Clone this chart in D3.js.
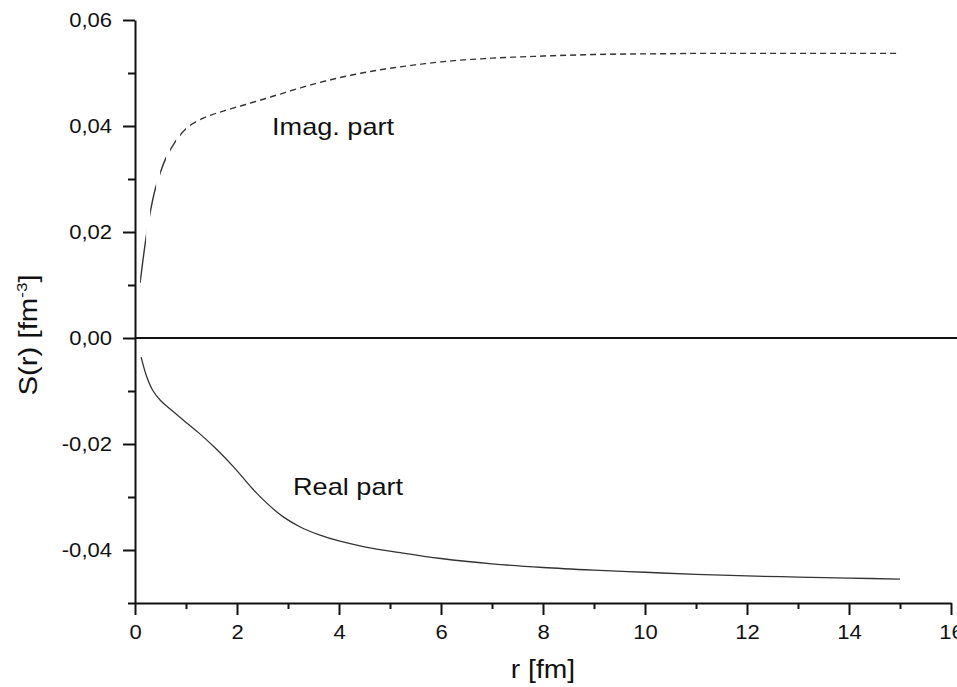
<!DOCTYPE html>
<html>
<head>
<meta charset="utf-8">
<script src="https://cdn.jsdelivr.net/npm/d3@7"></script>
<style>
  body { margin: 0; background: #fff; }
  svg { display: block; font-family: "Liberation Sans", Arial, sans-serif; }
  .axis path, .axis line { stroke: #111; stroke-width: 2; }
  .axis text { fill: #111; font-size: 19.5px; }
</style>
</head>
<body>
<svg id="chart" width="957" height="687"></svg>
<script>
// values
var rImag = [0.1, 0.2, 0.3, 0.4, 0.5, 0.6, 0.8, 1.0, 1.25, 1.5, 2.0, 2.5, 3.0, 3.5, 4.0, 4.5, 5.0,
             6, 7, 8, 9, 10, 11, 12, 13, 14, 15];
var imagVals = [0.0104, 0.0178, 0.0238, 0.0282, 0.0313, 0.0338, 0.0372, 0.0395, 0.0411, 0.0421,
                0.0436, 0.0450, 0.0465, 0.0479, 0.0491, 0.0501, 0.0509,
                0.0521, 0.0528, 0.0532, 0.0535, 0.0536, 0.0537, 0.0537, 0.0537, 0.0537, 0.0537];
var rReal = [0.12, 0.23, 0.35, 0.5, 0.7, 0.95, 1.25, 1.6, 1.95, 2.3, 2.6, 2.9, 3.25, 3.6, 4.0, 4.5, 5.2,
             6, 7, 8, 9, 10, 11, 12, 13, 14, 15];
var realVals = [-0.0036, -0.0073, -0.0099, -0.0118, -0.0135, -0.0155, -0.0179, -0.0210, -0.0245,
                -0.0284, -0.0313, -0.0337, -0.0357, -0.0371, -0.0383, -0.0394, -0.0405,
                -0.0416, -0.0426, -0.0433, -0.0438, -0.0442, -0.0446, -0.0449, -0.0451, -0.0453, -0.0455];
var xMajor = [0, 2, 4, 6, 8, 10, 12, 14, 16];
var yMajor = [-0.04, -0.02, 0, 0.02, 0.04, 0.06];

var svg = d3.select('#chart');
var stretch = 1.13;   // glyphs in the picture are a bit wider than the font

var x = d3.scaleLinear().domain([0, 16]).range([135, 951]);
var y = d3.scaleLinear().domain([-0.05, 0.06]).range([603, 20]);

var fmt = function (d) { return d3.format('.2f')(d).replace('.', ',').replace('−', '-'); };

// minor ticks first
svg.append('g')
    .attr('class', 'axis')
    .attr('transform', 'translate(0,603)')
    .call(d3.axisBottom(x).tickValues(d3.range(1, 16, 2)).tickSize(6).tickFormat(''))
    .select('.domain').remove();
svg.append('g')
    .attr('class', 'axis')
    .attr('transform', 'translate(135,0)')
    .call(d3.axisLeft(y).tickValues([-0.05, -0.03, -0.01, 0.01, 0.03, 0.05]).tickSize(7).tickFormat(''))
    .select('.domain').remove();

svg.append('g')
    .attr('class', 'axis')
    .attr('transform', 'translate(0,603)')
    .call(d3.axisBottom(x).tickValues(xMajor).tickSize(12).tickSizeOuter(0).tickPadding(10).tickFormat(d3.format('d')));

svg.append('g')
    .attr('class', 'axis')
    .attr('transform', 'translate(135,0)')
    .call(d3.axisLeft(y).tickValues(yMajor).tickSize(12).tickSizeOuter(0).tickPadding(11).tickFormat(fmt));

// zero line across the plot
svg.append('line')
    .attr('x1', x(0)).attr('x2', 957)
    .attr('y1', y(0)).attr('y2', y(0))
    .style('stroke', '#111')
    .style('stroke-width', 2);

var line = d3.line().curve(d3.curveCatmullRom.alpha(0.5));

var imagPts = rImag.map(function (r, i) { return [x(r), y(imagVals[i])]; });
var realPts = rReal.map(function (r, i) { return [x(r), y(realVals[i])]; });

// dashes follow the x direction: clip the curve with vertical stripes
var clip = svg.append('defs').append('clipPath').attr('id', 'dashclip');
d3.range(x(rImag[0]), x(15) + 10, 10).forEach(function (px) {
    clip.append('rect')
        .attr('x', px).attr('y', 0)
        .attr('width', 6).attr('height', 687);
});

svg.append('path')
    .attr('d', line(imagPts))
    .attr('clip-path', 'url(#dashclip)')
    .style('fill', 'none')
    .style('stroke', '#333')
    .style('stroke-width', 1.4);

svg.append('path')
    .attr('d', line(realPts))
    .style('fill', 'none')
    .style('stroke', '#333')
    .style('stroke-width', 1.3);

// curve labels
svg.append('text')
    .attr('x', 272).attr('y', 135)
    .style('font-size', '24px')
    .style('fill', '#111')
    .text('Imag. part');

svg.append('text')
    .attr('x', 293).attr('y', 495)
    .style('font-size', '24px')
    .style('fill', '#111')
    .text('Real part');

// axis titles
svg.append('text')
    .attr('x', 543).attr('y', 678)
    .style('text-anchor', 'middle')
    .style('font-size', '25px')
    .style('fill', '#111')
    .text('r [fm]');

var yt = svg.append('text')
    .attr('transform', 'translate(37,335) rotate(-90)')
    .style('text-anchor', 'middle')
    .style('font-size', '26px')
    .style('fill', '#111');
yt.append('tspan').text('S(r) [fm');
yt.append('tspan').attr('dy', -10).style('font-size', '15px').text('-3');
yt.append('tspan').attr('dy', 10).text(']');

// widen glyphs like the picture
svg.selectAll('text').each(function () {
    var t = d3.select(this);
    if (t.text() === '') return;
    var w = this.getComputedTextLength();
    t.attr('textLength', w * stretch).attr('lengthAdjust', 'spacingAndGlyphs');
});
</script>
</body>
</html>
